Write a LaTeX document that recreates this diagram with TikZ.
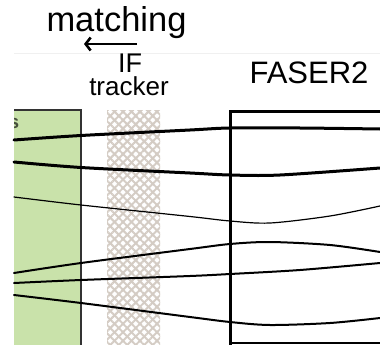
\documentclass[tikz,border=0pt]{standalone}
\usepackage{fontspec}
\setmainfont{Liberation Sans}
\usetikzlibrary{patterns.meta,arrows.meta}
\definecolor{detgreen}{RGB}{201,226,170}
\definecolor{hatchcol}{RGB}{212,204,196}
\definecolor{labelgrey}{RGB}{70,80,60}
\tikzset{
  label text/.style={inner sep=0pt, text=black},
  track/.style={line width=#1, line cap=round, black},
  track/.default=2pt,
  frame/.style={line width=3pt, black},
}
\begin{document}
\begin{tikzpicture}[x=1pt,y=-1pt]
\useasboundingbox (0,0) rectangle (380,345);
\clip (0,0) rectangle (380,345);

% faint page edge under the header
\draw[line width=0.8pt, black!6] (14,53) -- (380,53);

% calorimeter / detector block on the left
\fill[detgreen] (14,110) rectangle (81,350);
\draw[line width=1.3pt, black!80] (14,110) -- (81,110) -- (81,350);
\begin{scope}
  \clip (14,110) rectangle (81,140);
  \node[anchor=base east, inner sep=0pt, text=labelgrey, font=\bfseries\fontsize{19}{19}\selectfont] (cutlabel) at (19.5,128) {s};
\end{scope}

% interface tracker (hatched band)
\fill[white] (107,110) rectangle (160,350);
\fill[pattern={Lines[angle=45,distance=6pt,line width=2pt]}, pattern color=hatchcol] (107,110) rectangle (160,350);
\fill[pattern={Lines[angle=-45,distance=6pt,line width=2pt]}, pattern color=hatchcol] (107,110) rectangle (160,350);

% FASER2 spectrometer frame
\draw[frame] (395,111) -- (230,111) -- (230,350);
\draw[line width=2pt] (230,343) -- (395,343);

% tracks
\draw[track=3pt] plot[smooth, tension=0.5] coordinates {(14,140) (81,135.5) (190,130) (230,128) (300,128) (380,129)};
\draw[track=3pt] plot[smooth, tension=0.5] coordinates {(14,162) (81,167.5) (190,173) (230,175) (280,175) (380,168)};
\draw[track=1.2pt] plot[smooth, tension=0.5] coordinates {(14,197) (81,205) (190,216.5) (230,221) (270,223) (330,216) (380,206)};
\draw[track=2pt] plot[smooth, tension=0.5] coordinates {(14,273) (81,263) (190,249) (230,244) (270,242) (330,245) (380,252)};
\draw[track=2pt] plot[smooth, tension=0.5] coordinates {(14,283) (81,280) (190,276) (230,274) (300,270) (380,263)};
\draw[track=2pt] plot[smooth, tension=0.5] coordinates {(14,295) (81,303) (190,317) (230,322) (270,325) (330,323) (380,318)};

% labels
\node[label text, anchor=base, font=\fontsize{34.5}{34.5}\selectfont] (matching) at (116.5,32) {matching};
\coordinate (arrowstart) at (137,44);
\coordinate (arrowend) at (84,44);
\draw[line width=2.6pt, -{Straight Barb[length=5pt,width=13pt,line width=2.6pt]}] (arrowstart) -- (arrowend);
\node[label text, anchor=base, font=\fontsize{27}{27}\selectfont] (iflabel) at (130,73) {IF};
\node[label text, anchor=base, font=\fontsize{26}{26}\selectfont] (tracker) at (129,95) {tracker};
\node[label text, anchor=base, font=\fontsize{31}{31}\selectfont] (faser) at (309,83) {FASER2};
\end{tikzpicture}
\end{document}
